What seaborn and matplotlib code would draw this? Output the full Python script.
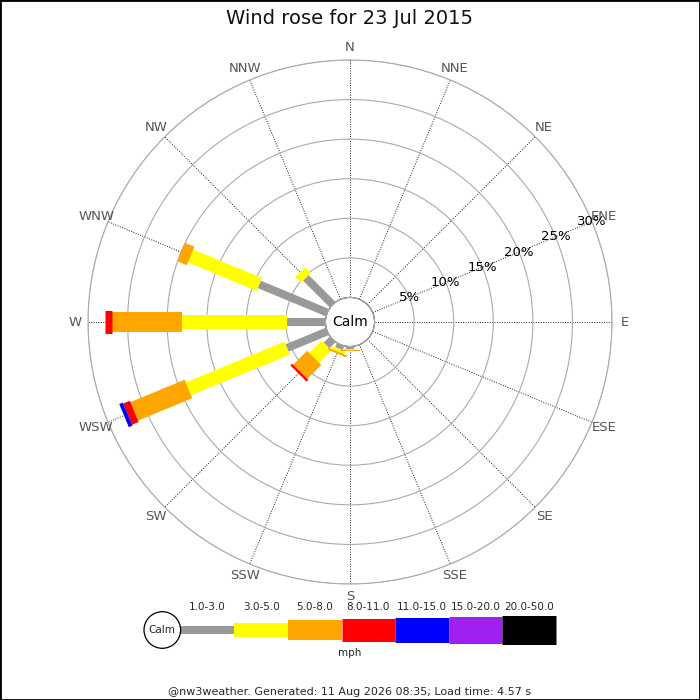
import numpy as np
import matplotlib
matplotlib.use("Agg")
import matplotlib.pyplot as plt
from matplotlib.patches import Circle, Rectangle
import seaborn as sns

# Wind rose data: % of the day per direction, one list per speed bin (mph)
directions = ["N", "NNE", "NE", "ENE", "E", "ESE", "SE", "SSE",
              "S", "SSW", "SW", "WSW", "W", "WNW", "NW", "NNW"]
speed_bins = ["1.0-3.0", "3.0-5.0", "5.0-8.0", "8.0-11.0",
              "11.0-15.0", "15.0-20.0", "20.0-50.0"]
#            N  NNE NE ENE E ESE SE SSE  S     SSW   SW   WSW   W     WNW  NW   NNW
pct_1_3   = [0, 0, 0, 0, 0, 0, 0, 0, 0.25, 0.55, 1.1, 5.5,  4.9,  9.3, 4.8, 0]
pct_3_5   = [0, 0, 0, 0, 0, 0, 0, 0, 0.20, 0.40, 2.2, 13.5, 13.2, 9.4, 1.0, 0]
pct_5_8   = [0, 0, 0, 0, 0, 0, 0, 0, 0.12, 0.25, 2.5, 7.4,  8.9,  1.3, 0,   0]
pct_8_11  = [0, 0, 0, 0, 0, 0, 0, 0, 0,    0,    0.3, 0.9,  0.8,  0,   0,   0]
pct_11_15 = [0, 0, 0, 0, 0, 0, 0, 0, 0,    0,    0,   0.5,  0,    0,   0,   0]
pct_15_20 = [0] * 16
pct_20_50 = [0] * 16
ring_pcts = [5, 10, 15, 20, 25, 30]

title = "Wind rose for 23 Jul 2015"
footer = "@nw3weather. Generated: 11 Aug 2026 08:35; Load time: 4.57 s"

series = [pct_1_3, pct_3_5, pct_5_8, pct_8_11, pct_11_15, pct_15_20, pct_20_50]
bin_colors = sns.color_palette(["#999999", "#ffff00", "#ffa500", "#ff0000",
                                "#0000ff", "#a020f0", "#000000"])
bin_widths = [8, 14, 20, 23, 25, 27, 29]  # bar thickness in pixels

sns.set_style("white")
plt.rcParams["font.family"] = ["DejaVu Sans"]

fig = plt.figure(figsize=(7, 7), dpi=100)
ax = fig.add_axes([88 / 700, 116 / 700, 524 / 700, 524 / 700], projection="polar")
ax.set_theta_zero_location("N")
ax.set_theta_direction(-1)
ax.set_ylim(0, 30)
ax.set_rorigin(-3.1)

thetas = np.deg2rad(np.arange(len(directions)) * 22.5)

# rings and spokes
ax.set_yticks(ring_pcts)
ax.set_yticklabels([])
ax.set_xticks(thetas)
ax.set_xticklabels([])
ax.tick_params(length=0)
ax.yaxis.grid(True, color="#aaaaaa", lw=0.8, ls="-")
ax.xaxis.grid(True, color="#222222", lw=0.7, ls=(0, (1, 1.5)))
ax.spines["polar"].set_color("#aaaaaa")
ax.spines["polar"].set_linewidth(0.8)
for name in ["inner", "start", "end"]:
    if name in ax.spines:
        ax.spines[name].set_visible(False)

# stacked bars
cum = np.zeros(len(directions))
for vals, col, w in zip(series, bin_colors, bin_widths):
    vals = np.array(vals, dtype=float)
    for th, r0, v in zip(thetas, cum, vals):
        if v > 0:
            ax.plot([th, th], [r0, r0 + v], color=col, lw=w * 0.72,
                    solid_capstyle="butt", zorder=3)
    cum += vals

# calm circle
circ = np.linspace(0, 2 * np.pi, 361)
ax.plot(circ, np.zeros_like(circ), color="#aaaaaa", lw=0.8, clip_on=False, zorder=4)
ax.text(0.5, 0.5, "Calm", transform=ax.transAxes, ha="center", va="center",
        fontsize=10, color="black")

# direction labels
for th, name in zip(thetas, directions):
    ax.text(th, 31.6, name, ha="center", va="center", fontsize=9.5, color="#555555")

# ring labels along ENE
for p in ring_pcts:
    ax.text(np.deg2rad(67.5), p, f"{p}%", ha="center", va="center",
            fontsize=9.5, color="black", zorder=5)

fig.text(0.5, 1 - 18 / 700, title, ha="center", va="center", fontsize=14, color="#111111")

# legend (pixel-coordinate overlay)
lax = fig.add_axes([0, 0, 1, 1])
lax.set_xlim(0, 700)
lax.set_ylim(700, 0)
lax.axis("off")
seg_len = 53.6
x0 = 180.7
for i, (lab, col, w) in enumerate(zip(speed_bins, bin_colors, bin_widths)):
    x = x0 + i * seg_len
    lax.plot([x, x + seg_len], [630, 630], color=col, lw=w * 0.72, solid_capstyle="butt")
    lax.text(x + seg_len / 2, 607, lab, ha="center", va="center", fontsize=7.5)
lax.add_patch(Circle((162.3, 630), 18.3, fc="white", ec="black", lw=0.9, zorder=3))
lax.text(162.3, 630, "Calm", ha="center", va="center", fontsize=7.5, zorder=4)
lax.text(350, 653, "mph", ha="center", va="center", fontsize=7.5)
lax.text(350, 692, footer, ha="center", va="center", fontsize=8)

fig.add_artist(Rectangle((0, 0), 1, 1, transform=fig.transFigure, fill=False,
                         ec="black", lw=2))

fig.savefig("out.png", dpi=100)
